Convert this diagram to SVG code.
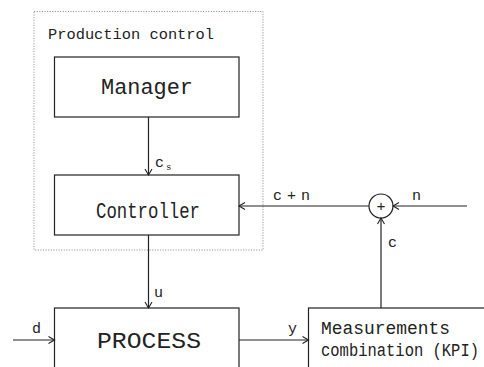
<svg xmlns="http://www.w3.org/2000/svg" width="484" height="367" viewBox="0 0 484 367">
<defs>
<marker id="arr" markerUnits="userSpaceOnUse" markerWidth="10" markerHeight="10" refX="7" refY="4" orient="auto">
<path d="M1,0.5 L7,4 L1,7.5" fill="none" stroke="#222" stroke-width="1.1"/>
</marker>
<style>
.box{fill:#fff;stroke:#222;stroke-width:1.2}
.grp{fill:none;stroke:#999;stroke-width:1;stroke-dasharray:1.2 1.4}
.ln{fill:none;stroke:#222;stroke-width:1.2}
.arr{marker-end:url(#arr)}
text{font-family:"Liberation Mono","DejaVu Sans Mono",monospace;fill:#222}
.big{font-size:22px}
.med{font-size:18px}
.sm{font-size:15px}
</style>
</defs>
<rect width="484" height="367" fill="#fff"/>
<g id="production-control">
<rect class="grp" x="34" y="11.5" width="229" height="238.5"/>
<text class="sm" x="48" y="38.5" textLength="166" lengthAdjust="spacingAndGlyphs">Production control</text>
</g>
<g id="manager">
<rect class="box" x="54.5" y="57" width="184.5" height="60"/>
<text class="big" x="101" y="94" textLength="92" lengthAdjust="spacingAndGlyphs">Manager</text>
</g>
<g id="controller">
<rect class="box" x="54.5" y="175" width="184.5" height="60"/>
<text class="big" x="96" y="218" textLength="104" lengthAdjust="spacingAndGlyphs">Controller</text>
</g>
<g id="process">
<rect class="box" x="54.5" y="308" width="184.5" height="80"/>
<text class="big" x="97" y="348" textLength="104" lengthAdjust="spacingAndGlyphs">PROCESS</text>
</g>
<g id="measurements">
<rect class="box" x="308.5" y="308" width="200" height="80"/>
<text class="med" x="321" y="334" textLength="129" lengthAdjust="spacingAndGlyphs">Measurements</text>
<text class="med" x="321" y="356" textLength="158" lengthAdjust="spacingAndGlyphs">combination (KPI)</text>
</g>
<g id="sum">
<circle cx="381" cy="206" r="12" fill="#fff" stroke="#222" stroke-width="1.2"/>
<text class="sm" x="381" y="211" text-anchor="middle">+</text>
</g>
<g id="connectors">
<line class="ln arr" x1="148.5" y1="117" x2="148.5" y2="175"/>
<text class="sm" x="155" y="167">c</text>
<text x="166" y="170" font-size="9">s</text>
<line class="ln arr" x1="148.5" y1="235" x2="148.5" y2="308"/>
<text class="sm" x="154" y="297">u</text>
<line class="ln arr" x1="13" y1="340" x2="54.5" y2="340"/>
<text class="sm" x="32" y="333">d</text>
<line class="ln arr" x1="239" y1="340" x2="308.5" y2="340"/>
<text class="sm" x="288" y="333">y</text>
<line class="ln arr" x1="381" y1="308" x2="381" y2="218"/>
<text class="sm" x="388" y="247">c</text>
<line class="ln arr" x1="467" y1="206" x2="393" y2="206"/>
<text class="sm" x="412" y="200">n</text>
<line class="ln arr" x1="369" y1="206" x2="239" y2="206"/>
<text class="sm" x="273" y="200" textLength="37" lengthAdjust="spacing">c+n</text>
</g>
</svg>
